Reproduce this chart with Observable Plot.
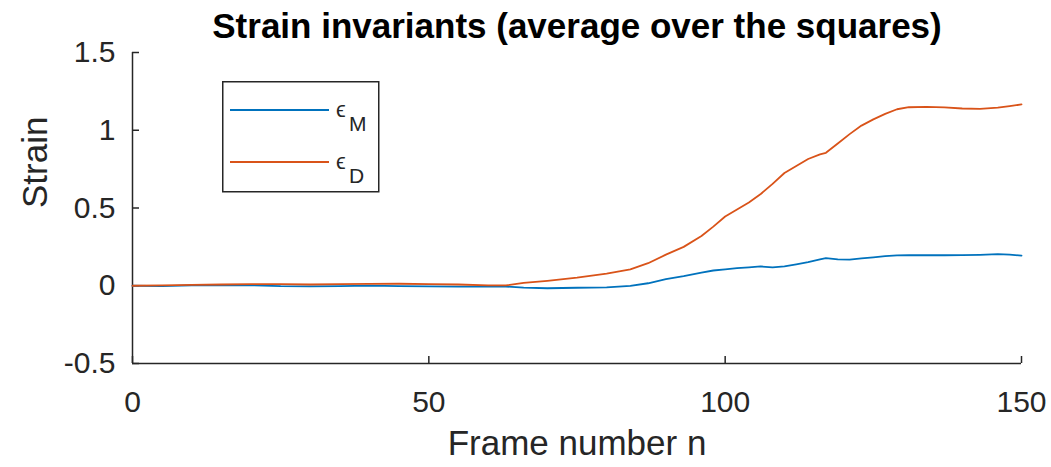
<!DOCTYPE html>
<html>
<head>
<meta charset="utf-8">
<script src="https://cdn.jsdelivr.net/npm/d3@7"></script>
<script src="https://cdn.jsdelivr.net/npm/@observablehq/plot@0.6"></script>
<style>
  html, body { margin: 0; padding: 0; background: #fff; }
  #wrap { position: relative; width: 1051px; height: 467px; overflow: hidden; }
  #legend { position: absolute; left: 222px; top: 81px; }
</style>
</head>
<body>
<div id="wrap"></div>
<script>
const titleText = "Strain invariants (average over the squares)";
const xLabel = "Frame number n";
const yLabel = "Strain";
const xTicks = [0, 50, 100, 150];
const yTicks = [-0.5, 0, 0.5, 1, 1.5];
const yTickLabels = ["-0.5", "0", "0.5", "1", "1.5"];
const seriesNames = ["M", "D"];
const seriesColors = ["#0072BD", "#D95319"];

const frames = [0,5,10,15,20,25,30,35,40,45,50,55,60,63,66,70,75,80,84,87,90,93,96,98,100,102,104,106,108,110,112,114,116,117,119,121,123,125,127,129,131,134,137,140,143,146,148,150];
const epsM = [0,-0.002,0.002,0.003,0.003,-0.003,-0.004,-0.002,0.001,-0.002,-0.004,-0.006,-0.006,-0.005,-0.012,-0.016,-0.013,-0.01,-0.001,0.016,0.042,0.062,0.085,0.098,0.105,0.113,0.118,0.124,0.118,0.125,0.138,0.152,0.17,0.178,0.17,0.168,0.176,0.183,0.19,0.195,0.197,0.196,0.196,0.197,0.199,0.203,0.2,0.194];
const epsD = [0,0.003,0.005,0.008,0.01,0.01,0.008,0.01,0.012,0.013,0.01,0.008,0.003,0.002,0.018,0.032,0.052,0.078,0.105,0.145,0.2,0.25,0.32,0.38,0.445,0.49,0.535,0.59,0.655,0.725,0.77,0.815,0.845,0.855,0.915,0.975,1.03,1.07,1.105,1.135,1.148,1.15,1.147,1.14,1.138,1.145,1.155,1.166];

const rows = [];
frames.forEach((n, i) => {
  rows.push({n, v: epsM[i], s: seriesNames[0]});
  rows.push({n, v: epsD[i], s: seriesNames[1]});
});

const ink = "#262626";
const chart = Plot.plot({
  width: 1051,
  height: 467,
  marginLeft: 132,
  marginRight: 30,
  marginTop: 52,
  marginBottom: 104,
  style: { fontFamily: "'Liberation Sans', Arial, sans-serif", color: ink, background: "white", overflow: "visible" },
  x: { domain: [0, 150] },
  y: { domain: [-0.5, 1.5] },
  color: { domain: seriesNames, range: seriesColors },
  marks: [
    Plot.axisX({ ticks: xTicks, tickSize: -7, tickPadding: 34, fontSize: 30, label: null, stroke: ink, strokeWidth: 1.5 }),
    Plot.axisY({ ticks: yTicks, tickSize: -7, tickPadding: 24, fontSize: 30, label: null, tickFormat: (d) => yTickLabels[yTicks.indexOf(d)], stroke: ink, strokeWidth: 1.5 }),
    Plot.ruleX([0], { stroke: ink, strokeWidth: 1.5 }),
    Plot.ruleY([-0.5], { stroke: ink, strokeWidth: 1.5 }),
    Plot.line(rows, { x: "n", y: "v", z: "s", stroke: "s", strokeWidth: 1.8 }),
    Plot.text([titleText], { frameAnchor: "top", lineAnchor: "top", dy: -39, fontSize: 35, fontWeight: "bold", fill: "black" }),
    Plot.text([xLabel], { frameAnchor: "bottom", lineAnchor: "top", dy: 67, fontSize: 35, fill: ink }),
    Plot.text([yLabel], { frameAnchor: "left", rotate: -90, dx: -97, fontSize: 35, fill: ink })
  ]
});
document.getElementById("wrap").appendChild(chart);

// legend overlay
const lg = d3.select("#wrap").append("svg").attr("id", "legend")
  .attr("width", 160).attr("height", 114)
  .style("font-family", "'Liberation Sans', Arial, sans-serif");
lg.append("rect").attr("x", 0.75).attr("y", 0.75).attr("width", 156).attr("height", 110)
  .attr("fill", "white").attr("stroke", ink).attr("stroke-width", 1.5);
seriesNames.forEach((name, i) => {
  const yy = 29 + i * 52;
  lg.append("line").attr("x1", 8).attr("x2", 107).attr("y1", yy).attr("y2", yy)
    .attr("stroke", seriesColors[i]).attr("stroke-width", 1.8);
  lg.append("text").attr("x", 114).attr("y", yy + 7).attr("font-size", 22).attr("fill", ink).text("\u03F5");
  lg.append("text").attr("x", 127).attr("y", yy + 21).attr("font-size", 21).attr("fill", ink).text(name);
});
</script>
</body>
</html>
